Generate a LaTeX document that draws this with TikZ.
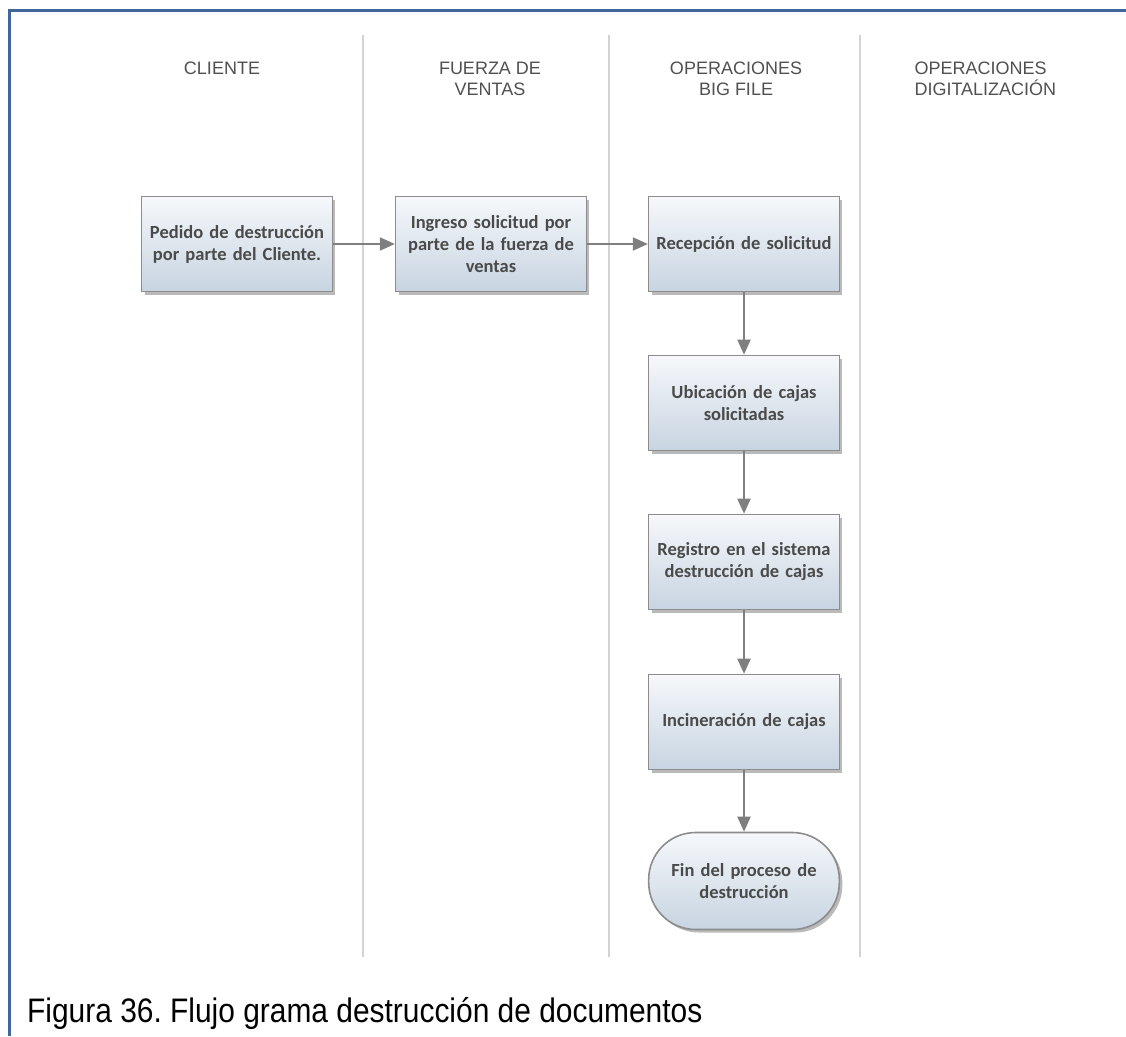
\documentclass[tikz,border=0pt]{standalone}
\usepackage{fontspec}
\setmainfont{Liberation Sans}
\newfontfamily\boxfont{Carlito}
\usepackage{tikz}
\usetikzlibrary{positioning, calc, arrows.meta, shadows}
\frenchspacing

\definecolor{framecol}{HTML}{41679A}
\definecolor{lanecol}{HTML}{D4D4D4}
\definecolor{boxtop}{HTML}{F6F8FB}
\definecolor{boxbot}{HTML}{C7D4E1}
\definecolor{boxline}{HTML}{8C8C8C}
\definecolor{flowcol}{HTML}{7F7F7F}
\definecolor{headcol}{HTML}{505050}
\definecolor{boxtext}{HTML}{4A4A4A}

\tikzset{
    process/.style={rectangle, draw=boxline, line width=1.6pt,
        top color=boxtop, bottom color=boxbot,
        minimum width=190pt, minimum height=95pt, text width=184pt,
        align=center, text=boxtext,
        font=\boxfont\bfseries\fontsize{18.5}{22}\selectfont,
        drop shadow={shadow xshift=3pt, shadow yshift=-3pt, fill=black!45, opacity=.6}},
    terminal/.style={process, rounded corners=47pt, minimum height=97pt},
    flow/.style={draw=flowcol, line width=2pt, -{Triangle[length=15pt, width=13pt]}},
    lane/.style={draw=lanecol, line width=2.5pt},
    lanehead/.style={text=headcol, align=center, font=\fontsize{18}{21}\selectfont}
}

\begin{document}
\begin{tikzpicture}[x=1pt, y=-1pt]
    \useasboundingbox (0,0) rectangle (1126,1036);

    % Frame
    \draw[framecol, line width=3pt] (1126,10) -- (9,10) -- (9,1036);

    % Lane separators
    \foreach \x in {363,609,860} {
        \draw[lane] (\x,35) -- (\x,957);
    }

    % Lane headers
    \node[lanehead] (hCliente) at (222,68) {CLIENTE};
    \node[lanehead] (hVentas) at (490,79) {FUERZA DE\\VENTAS};
    \node[lanehead] (hBigFile) at (736,79) {OPERACIONES\\BIG FILE};
    \node[lanehead, align=left, anchor=west] (hDigital) at (911,79) {OPERACIONES\\DIGITALIZACIÓN};

    % Process boxes
    \node[process] (pedido) at (237,244) {Pedido de destrucción\\por parte del Cliente.};
    \node[process] (ingreso) at (491,244) {Ingreso solicitud por\\parte de la fuerza de\\ventas};
    \node[process] (recepcion) at (744,244) {Recepción de solicitud};
    \node[process] (ubicacion) at (744,403) {Ubicación de cajas\\solicitadas};
    \node[process] (registro) at (744,562) {Registro en el sistema\\destrucción de cajas};
    \node[process] (incineracion) at (744,722) {Incineración de cajas};
    \node[terminal] (fin) at (744,881) {Fin del proceso de\\destrucción};

    % Connectors
    \draw[flow] (pedido) -- (ingreso);
    \draw[flow] (ingreso) -- (recepcion);
    \draw[flow] (recepcion) -- (ubicacion);
    \draw[flow] (ubicacion) -- (registro);
    \draw[flow] (registro) -- (incineracion);
    \draw[flow] (incineracion) -- (fin);

    % Caption
    \node[anchor=base west, xscale=0.88, inner sep=0pt, font=\fontsize{34}{38}\selectfont] (caption) at (27,1022)
        {Figura 36. Flujo grama destrucción de documentos};
\end{tikzpicture}
\end{document}
